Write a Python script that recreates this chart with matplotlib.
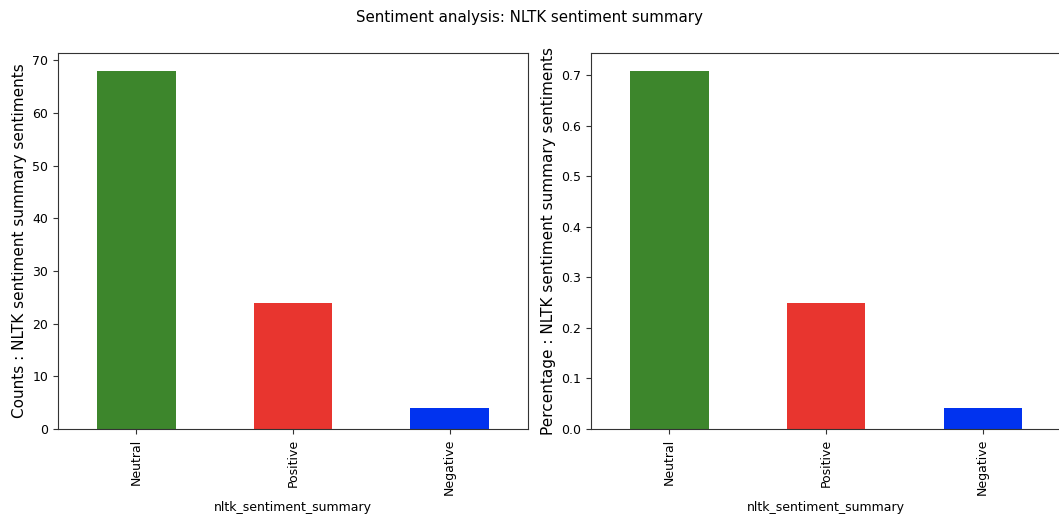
import matplotlib
matplotlib.use("Agg")
import matplotlib.pyplot as plt

categories = ["Neutral", "Positive", "Negative"]
counts = [68, 24, 4]
total = sum(counts)
percentages = [c / total for c in counts]
colors = ["#3d862c", "#e8352f", "#0133ef"]

fig = plt.figure(figsize=(10.59, 5.17), dpi=100)
ax1 = fig.add_axes([58 / 1059, 1 - 429 / 517, 470 / 1059, 376 / 517])
ax2 = fig.add_axes([591 / 1059, 1 - 429 / 517, 470 / 1059, 376 / 517])

x = list(range(len(categories)))
for ax, vals, label in [
    (ax1, counts, "Counts : NLTK sentiment summary sentiments"),
    (ax2, percentages, "Percentage : NLTK sentiment summary sentiments"),
]:
    ax.bar(x, vals, width=0.5, color=colors)
    ax.set_xlim(-0.5, len(categories) - 0.5)
    ax.set_ylim(0, max(vals) * 1.05)
    ax.set_xticks(x)
    ax.set_xticklabels(categories, rotation=90)
    ax.tick_params(labelsize=9, colors="#333333", labelcolor="black")
    for s in ax.spines.values():
        s.set_color("#333333")
    ax.set_xlabel("nltk_sentiment_summary", fontsize=9)
    ax.set_ylabel(label, fontsize=11)

fig.suptitle("Sentiment analysis: NLTK sentiment summary", y=0.98, fontsize=10.8)
fig.savefig("out.png", dpi=100)
